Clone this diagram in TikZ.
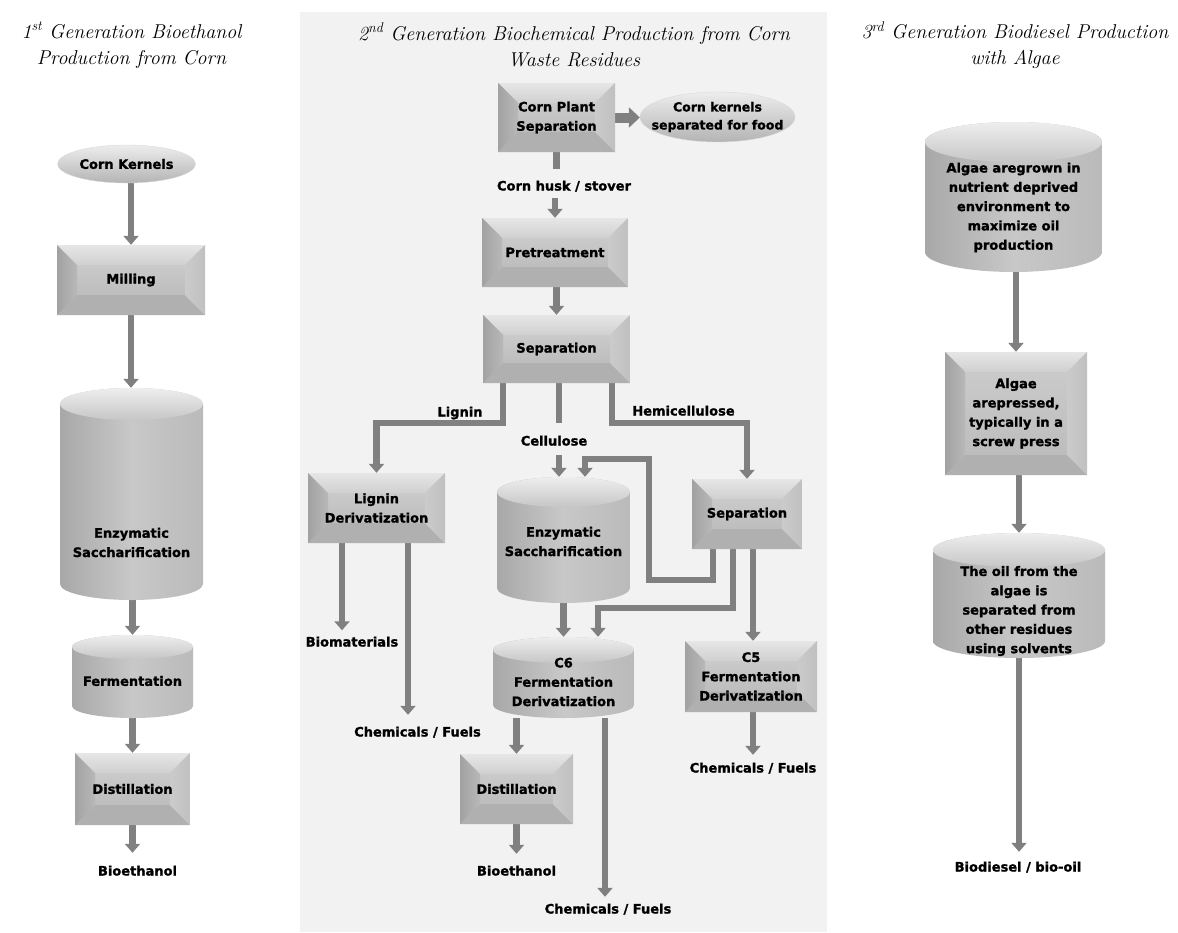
\documentclass[tikz,border=0pt]{standalone}
\usepackage{fontspec}
\newfontfamily\lblfont{DejaVu Sans}[BoldFeatures={FakeBold=1.4}]
\usetikzlibrary{arrows.meta,calc,shapes.geometric}
\pgfdeclarelayer{bg}
\pgfdeclarelayer{conn}
\pgfsetlayers{bg,conn,main}
\definecolor{panel}{HTML}{F2F2F2}
\definecolor{arrowgray}{HTML}{808080}
\definecolor{bvC}{HTML}{C4C4C4}
\definecolor{bvCt}{HTML}{CACACA}
\definecolor{bvCb}{HTML}{BDBDBD}
\definecolor{bvTt}{HTML}{E6E6E6}
\definecolor{bvTb}{HTML}{D0D0D0}
\definecolor{bvB}{HTML}{B0B0B0}
\definecolor{bvLa}{HTML}{A2A2A2}
\definecolor{bvLb}{HTML}{B8B8B8}
\definecolor{bvRa}{HTML}{C0C0C0}
\definecolor{bvRb}{HTML}{CBCBCB}
\definecolor{cyL}{HTML}{A8A8A8}
\definecolor{cyM}{HTML}{C8C8C8}
\definecolor{cyR}{HTML}{BABABA}
\definecolor{cyT}{HTML}{EEEEEE}
\definecolor{cyB}{HTML}{C6C6C6}
\definecolor{elT}{HTML}{EDEDED}
\definecolor{elB}{HTML}{B4B4B4}
\begin{document}
\begin{tikzpicture}[x=1pt,y=-1pt,
  txt/.style={font=\lblfont\bfseries\fontsize{13}{19.3}\selectfont, align=center, text=black},
  lbl/.style={txt, inner sep=0pt, text height=10pt, text depth=3pt},
  ttl/.style={font=\fontsize{20}{26}\selectfont\itshape, align=center, inner sep=0pt},
  sz/.style 2 args={minimum width=#1, minimum height=#2},
  bevel/.style={txt, inner sep=0pt, path picture={
    \coordinate (q1) at (path picture bounding box.south west);
    \coordinate (q3) at (path picture bounding box.north east);
    \coordinate (q2) at (q1 -| q3);
    \coordinate (q4) at (q1 |- q3);
    \coordinate (i1) at ($(q1)+(20pt,20pt)$);
    \coordinate (i3) at ($(q3)+(-20pt,-20pt)$);
    \coordinate (i2) at (i1 -| i3);
    \coordinate (i4) at (i1 |- i3);
    \fill[bvC] (q1) rectangle (q3);
    \shade[top color=bvCt, bottom color=bvCb] (i1) rectangle (i3);
    \shade[top color=bvTt, bottom color=bvTb] (q4) -- (q3) -- (i3) -- (i4) -- cycle;
    \fill[bvB] (q1) -- (q2) -- (i2) -- (i1) -- cycle;
    \shade[left color=bvLa, right color=bvLb] (q1) -- (q4) -- (i4) -- (i1) -- cycle;
    \shade[left color=bvRb, right color=bvRa] (q2) -- (q3) -- (i3) -- (i2) -- cycle;
  }},
  cyl/.style={inner sep=0pt, path picture={
    \shade[left color=cyL, right color=cyR, middle color=cyM]
      let \p1=(path picture bounding box.south west), \p2=(path picture bounding box.north east) in
      (\x1,\y2-#1pt) arc[start angle=180, end angle=0, x radius={(\x2-\x1)/2}, y radius=#1pt]
      -- (\x2,\y1+#1pt) arc[start angle=0, end angle=-180, x radius={(\x2-\x1)/2}, y radius=#1pt] -- cycle;
    \shade[top color=cyT, bottom color=cyB]
      let \p1=(path picture bounding box.south west), \p2=(path picture bounding box.north east) in
      ({(\x1+\x2)/2},\y2-#1pt) ellipse[x radius={(\x2-\x1)/2}, y radius=#1pt];
  }},
  cyl/.default=14,
  oval/.style={txt, ellipse, inner sep=0pt, top color=elT, bottom color=elB, draw=white!85!black, line width=0.4pt},
  arr/.style={draw=arrowgray, line width=6.5pt, -{Triangle[width=15pt,length=9pt]}},
  ln/.style={draw=arrowgray, line width=6.5pt}
]
\useasboundingbox (0,0) rectangle (1178,932);
\begin{pgfonlayer}{bg}
  \fill[panel] (300,12) rectangle (827,932);
\end{pgfonlayer}

% titles
\node[ttl] (t1) at (131.5,45) {1\textsuperscript{st} Generation Bioethanol\\Production from Corn};
\node[ttl] (t2) at (574,45) {2\textsuperscript{nd} Generation Biochemical Production from Corn\\Waste Residues};
\node[ttl] (t3) at (1015,45) {3\textsuperscript{rd} Generation Biodiesel Production\\with Algae};

% coordinates for connector routing
\coordinate (yBr) at (0,423);
\coordinate (xLig) at (503,0);
\coordinate (xCel) at (559,0);
\coordinate (xHem) at (612,0);
\coordinate (xF1) at (713,0);
\coordinate (yF1) at (0,580);
\coordinate (xF2) at (649,0);
\coordinate (yF2) at (0,459);
\coordinate (xF3) at (585,0);
\coordinate (xF4) at (733,0);
\coordinate (yF4) at (0,608);
\coordinate (xF5) at (598,0);
\coordinate (xF6) at (753,0);
\coordinate (xB1) at (342,0);
\coordinate (xB2) at (408,0);
\coordinate (xC2) at (605,0);

% left column
\node[oval, sz={138}{38}] (ck) at (126.5,164) {Corn Kernels};
\node[bevel, sz={148}{70}] (mill) at (131,280) {Milling};
\node[cyl=16, sz={143}{212}] (enz1) at (131.5,494) {};
\node[txt] (enz1t) at (131.5,542.5) {Enzymatic\\Saccharification};
\node[cyl=12, sz={121}{83}] (ferm) at (132.5,676.5) {};
\node[txt] (fermt) at (132.5,681) {Fermentation};
\node[bevel, sz={115}{72}] (dist1) at (132.5,789) {Distillation};
\node[lbl] (bio1) at (137.5,872) {Bioethanol};

% middle column
\node[bevel, sz={117}{69}] (cps) at (556.5,117.5) {Corn Plant\\Separation};
\node[oval, sz={155}{50}, inner xsep=-16pt, inner ysep=0pt, font=\lblfont\bfseries\fontsize{12.5}{18}\selectfont] (ckf) at (717.5,117) {Corn kernels\\separated for food};
\node[lbl] (husk) at (564,187) {Corn husk / stover};
\node[bevel, sz={146}{69}] (pre) at (555,252.5) {Pretreatment};
\node[bevel, sz={147}{68}] (sep) at (556.5,349) {Separation};
\node[lbl] (lig) at (460,413) {Lignin};
\node[lbl] (cel) at (554,442) {Cellulose};
\node[lbl] (hemi) at (683.5,412) {Hemicellulose};
\node[bevel, sz={137}{70}] (ligd) at (376.5,508) {Lignin\\Derivatization};
\node[cyl=15, sz={133}{126}] (enz2) at (563.5,540) {};
\node[txt] (enz2t) at (563.5,541.5) {Enzymatic\\Saccharification};
\node[bevel, sz={110}{70}] (sep2) at (747,514) {Separation};
\node[cyl=13, sz={141}{81}] (c6) at (563.5,677.5) {};
\node[txt] (c6t) at (563.5,682) {C6\\Fermentation\\Derivatization};
\node[bevel, sz={132}{71}] (c5) at (751,676.5) {C5\\Fermentation\\Derivatization};
\node[lbl] (biom) at (352,643) {Biomaterials};
\node[lbl] (chem1) at (417.5,733) {Chemicals / Fuels};
\node[lbl] (chem2) at (753,769) {Chemicals / Fuels};
\node[bevel, sz={113}{70}] (dist2) at (516.5,789) {Distillation};
\node[lbl] (bio2) at (516.5,872) {Bioethanol};
\node[lbl] (chem3) at (608,910) {Chemicals / Fuels};

% right column
\node[cyl=20, sz={177}{150}] (alg1) at (1013.5,197) {};
\node[txt] (alg1t) at (1013.5,207.5) {Algae aregrown in\\nutrient deprived\\environment to\\maximize oil\\production};
\node[bevel, sz={142}{123}] (alg2) at (1016,413.5) {Algae\\arepressed,\\typically in a\\screw press};
\node[cyl=17, sz={172}{125}] (oil) at (1019,595.5) {};
\node[txt] (oilt) at (1019,611) {The oil from the\\algae is\\separated from\\other residues\\using solvents};
\node[lbl] (biod) at (1018,868) {Biodiesel / bio-oil};

\begin{pgfonlayer}{conn}
  % left
  \draw[arr] (mill.north |- ck.south) -- (mill.north);
  \draw[arr] (mill.south) -- (mill.south |- enz1.north);
  \draw[arr] (ferm.north |- enz1.south) -- (ferm.north);
  \draw[arr] (dist1.north |- ferm.south) -- (dist1.north);
  \draw[arr, shorten >=12.5pt] (dist1.south) -- (dist1.south |- bio1.north);
  % middle
  \draw[arr, line width=10pt, -{Triangle[width=20pt,length=11pt]}] (cps.east) -- (cps.east -| ckf.west);
  \draw[ln, shorten >=11pt] (cps.south) -- (cps.south |- husk.north);
  \draw[arr, shorten <=4pt] (pre.north |- husk.south) -- (pre.north);
  \draw[arr] (sep.north |- pre.south) -- (sep.north);
  \draw[arr] (sep.south -| xLig) -- (xLig |- yBr) -- (ligd.north |- yBr) -- (ligd.north);
  \draw[ln] (sep.south -| xCel) -- (xCel |- yBr);
  \draw[arr, shorten <=6pt] (cel.south -| xCel) -- (enz2.north -| xCel);
  \draw[arr] (sep.south -| xHem) -- (xHem |- yBr) -- (sep2.north |- yBr) -- (sep2.north);
  \draw[arr] (sep2.south -| xF1) -- (xF1 |- yF1) -- (xF2 |- yF1) -- (xF2 |- yF2) -- (xF3 |- yF2) -- (enz2.north -| xF3);
  \draw[arr] (sep2.south -| xF4) -- (xF4 |- yF4) -- (xF5 |- yF4) -- (c6.north -| xF5);
  \draw[arr] (sep2.south -| xF6) -- (c5.north -| xF6);
  \draw[arr] (enz2.south) -- (c6.north);
  \draw[arr, shorten >=6pt] (ligd.south -| xB1) -- (biom.north -| xB1);
  \draw[arr, shorten >=11.5pt] (ligd.south -| xB2) -- (chem1.north -| xB2);
  \draw[arr] (c6.south -| dist2.north) -- (dist2.north);
  \draw[arr, shorten >=6.5pt] (c6.south -| xC2) -- (chem3.north -| xC2);
  \draw[arr, shorten >=11.5pt] (dist2.south) -- (dist2.south |- bio2.north);
  \draw[arr, shorten >=7.5pt] (c5.south -| chem2.north) -- (chem2.north);
  % right
  \draw[arr] (alg2.north |- alg1.south) -- (alg2.north);
  \draw[arr] (oil.north |- alg2.south) -- (oil.north);
  \draw[arr, shorten >=9.5pt] (oil.south) -- (oil.south |- biod.north);
\end{pgfonlayer}
\end{tikzpicture}
\end{document}
